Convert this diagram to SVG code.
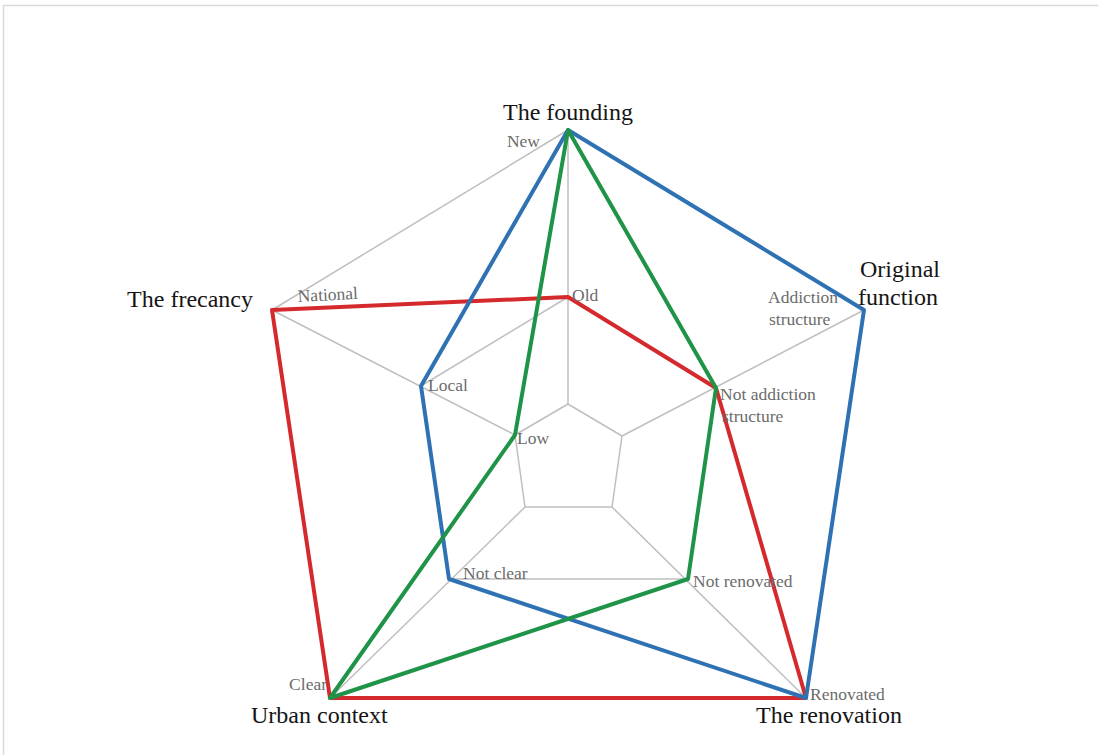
<svg xmlns="http://www.w3.org/2000/svg" width="1098" height="755" viewBox="0 0 1098 755">
  <style>
    .frame { fill: #ffffff; stroke: #d9d9d9; stroke-width: 1.5; }
    .grid { fill: none; stroke: #bfbfbf; stroke-width: 1.5; stroke-linejoin: round; }
    .series { fill: none; stroke-width: 4; stroke-linejoin: round; }
    .s-red { stroke: #d42a2e; }
    .s-blue { stroke: #2f72b4; }
    .s-green { stroke: #1f9347; }
    .cat { font-size: 24px; fill: #151515; }
    .val { font-size: 17.5px; fill: #6b6b6b; }
  </style>

  <rect class="frame" x="3.5" y="5.5" width="1100" height="760"/>

  <!-- radar grid: three pentagon rings and five spokes -->
  <g id="grid">
    <polygon class="grid" points="568,130 864,310 806,698 330,698 272,310"/>
    <polygon class="grid" points="568,297 716,388 688,579 449,579 421,386"/>
    <polygon class="grid" points="568,404 622,436 612,507 525,507 515,435"/>
    <line class="grid" x1="568" y1="404" x2="568" y2="130"/>
    <line class="grid" x1="622" y1="436" x2="864" y2="310"/>
    <line class="grid" x1="612" y1="507" x2="806" y2="698"/>
    <line class="grid" x1="525" y1="507" x2="330" y2="698"/>
    <line class="grid" x1="515" y1="435" x2="272" y2="310"/>
  </g>

  <!-- data series -->
  <g id="connectors">
    <polygon id="series-red" class="series s-red" points="568,297 716,388 806,698 330,698 272,310"/>
    <polygon id="series-blue" class="series s-blue" points="568,130 864,310 806,698 449,579 421,386"/>
    <polygon id="series-green" class="series s-green" points="568,130 716,388 688,579 330,698 515,435"/>
  </g>

  <g font-family="'Liberation Serif', 'DejaVu Serif', 'Times New Roman', serif">
    <!-- axis: The founding -->
    <g id="axis-founding">
      <text class="cat" x="568" y="120" text-anchor="middle">The founding</text>
      <text class="val" x="540" y="147" text-anchor="end">New</text>
      <text class="val" x="572" y="301">Old</text>
    </g>

    <!-- axis: Original function -->
    <g id="axis-function">
      <text class="cat" x="860" y="277">Original</text>
      <text class="cat" x="858" y="305">function</text>
      <text class="val" x="768" y="303">Addiction</text>
      <text class="val" x="769" y="325">structure</text>
      <text class="val" x="720" y="400">Not addiction</text>
      <text class="val" x="722" y="422">structure</text>
    </g>

    <!-- axis: The renovation -->
    <g id="axis-renovation">
      <text class="cat" x="756" y="723">The renovation</text>
      <text class="val" x="810" y="700">Renovated</text>
      <text class="val" x="693" y="587">Not renovated</text>
    </g>

    <!-- axis: Urban context -->
    <g id="axis-urban">
      <text class="cat" x="251" y="723">Urban context</text>
      <text class="val" x="327" y="690" text-anchor="end">Clear</text>
      <text class="val" x="463" y="579">Not clear</text>
    </g>

    <!-- axis: The frecancy -->
    <g id="axis-frecancy">
      <text class="cat" x="253" y="307" text-anchor="end">The frecancy</text>
      <text class="val" x="298" y="302" transform="rotate(-3 298 302)">National</text>
      <text class="val" x="428" y="391">Local</text>
      <text class="val" x="517" y="444">Low</text>
    </g>
  </g>
</svg>
